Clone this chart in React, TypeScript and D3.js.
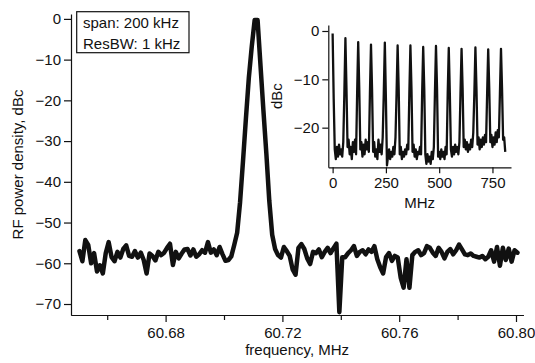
import { useRef, useEffect } from "react";
import * as d3 from "d3";

// main spectrum: 1 kHz steps starting at 60.6505 MHz
const mainStart = 60.6505;
const mainStep = 0.001;
const mainDb = [
  -57, -59.5, -54.3, -55.5, -60, -57.5, -62, -60.5, -62.5, -57.5,
  -54.8, -58.5, -59.5, -57.2, -58.6, -56.5, -55.6, -58.2, -58.4, -57,
  -58.6, -57.4, -59.2, -62.5, -57.6, -58.2, -59.3, -57.2, -58, -57.4,
  -56.2, -55.2, -60.4, -57.2, -58.8, -57.6, -56.6, -56.5, -58.1, -56.6,
  -58.4, -57.8, -56.8, -57.4, -54.8, -57.4, -56.6, -58, -56, -57.8,
  -59.4, -59.2, -58.3, -55.5, -52.5, -45, -35, -24.5, -14.5, -6.8,
  -0.3, -0.3, -11.5, -22.5, -33, -44.6, -53, -56.5, -58, -58.6,
  -56, -57, -58.2, -61.5, -62.8, -56.2, -55.3, -56.5, -58.8, -60.2,
  -57.2, -57.5, -56.6, -58.5, -57.2, -56.2, -57.5, -56.3, -55.2, -72,
  -58.5, -58.5, -57.5, -56.8, -55.8, -58.2, -57.2, -56.8, -57.8, -56.6,
  -57.2, -55.8, -59, -61, -62.5, -58.5, -57.5, -59.4, -58.2, -58.6,
  -63.5, -66, -59, -66, -58, -57.2, -56.8, -58, -57.5, -55.8,
  -56.2, -57.4, -58.2, -56.2, -57.2, -58.8, -57.2, -56.5, -57.8, -56.8,
  -55.4, -56.6, -57.8, -58, -57.6, -58.2, -58.4, -58.6, -58.2, -59,
  -58.4, -56.8, -59.6, -56, -60.6, -56.2, -59.2, -56.4, -59.6, -56.8,
  -57.4,
];
const mainYTicks = [0, -10, -20, -30, -40, -50, -60, -70];
const mainXMajor = [60.68, 60.72, 60.76, 60.8];
const mainXMinor = [60.66, 60.7, 60.74, 60.78];

// inset: wide span, 5 MHz steps from 0 MHz
const insetStart = 0;
const insetStep = 5;
const insetDb = [
  -0.5, -14, -24.5, -26.5, -24, -26, -23.5, -25.5, -24.5, -26,
  -23, -13, -1.5, -12, -24, -22.5, -25.5, -24, -26.5, -23,
  -25, -22.5, -25.5, -13, -2.3, -12, -24.5, -23, -26, -23.5,
  -25.5, -22.5, -24.5, -23, -25, -13, -2.8, -12, -25, -23,
  -26, -24.5, -26.5, -22.5, -25, -23.5, -25.5, -22, -13, -2.4,
  -14, -27.8, -26, -24.5, -26.5, -25, -26, -24, -25.5, -22,
  -13, -3.0, -12, -25.5, -24, -26.5, -25, -26, -24.5, -25.5,
  -23.5, -24.5, -13, -3.0, -12, -25, -23.5, -26, -24.5, -26.5,
  -25, -25.5, -24, -25.5, -13, -3.3, -12, -25.5, -27.5, -25.5,
  -27, -26, -27.5, -25, -26.5, -24, -13, -3.1, -12, -26,
  -25, -26.5, -24.5, -26, -25, -26.5, -24, -25.5, -13, -3.5,
  -13, -24.5, -26, -24, -25.5, -23.5, -25, -24, -25.5, -23,
  -13, -3.7, -12, -24, -22.5, -24.5, -23, -25, -23.5, -24.5,
  -22.5, -24, -21, -13, -3.4, -12, -23.5, -22, -24.5, -22.5,
  -24, -22, -23.5, -21.5, -23, -13, -3.8, -12, -23, -21.5,
  -24, -22, -23.5, -21, -23, -20.5, -22, -13, -3.7, -12,
  -22.5, -22, -25,
];
const insetYTicks = [0, -10, -20];
const insetXTicks = [0, 250, 500, 750];

const legendLines = ["span: 200 kHz", "ResBW: 1 kHz"];

const FONT = "'Liberation Sans', Arial, Helvetica, sans-serif";
const INK = "#111";

export default function App() {
  const svgRef = useRef<SVGSVGElement>(null);

  useEffect(() => {
    if (!svgRef.current) return;
    const svg = d3.select(svgRef.current);
    svg.selectAll("*").remove();
    svg.attr("font-family", FONT);

    const styleAxis = (gEl: d3.Selection<SVGGElement, unknown, null, undefined>) => {
      gEl.select(".domain").attr("stroke", INK).attr("stroke-width", 1.2);
      gEl.selectAll(".tick line").attr("stroke", INK).attr("stroke-width", 1.2);
      gEl.selectAll("text").attr("fill", INK).attr("font-size", 15).attr("font-family", FONT);
    };

    // ---- main panel
    const x = d3.scaleLinear().domain([60.6476, 60.8025]).range([71, 523.3]);
    const y = d3.scaleLinear().domain([-72.7, 1.2]).range([315, 14]);

    const mainPts = mainDb.map((v, i) => ({ f: mainStart + i * mainStep, v }));
    const line = d3.line<{ f: number; v: number }>().x(d => x(d.f)).y(d => y(d.v));

    svg.append("path").datum(mainPts)
      .attr("fill", "none").attr("stroke", INK).attr("stroke-width", 4.5)
      .attr("stroke-linejoin", "round").attr("stroke-linecap", "round")
      .attr("d", line);

    svg.append("g").attr("transform", `translate(${x.range()[0]},0)`)
      .call(d3.axisLeft(y).tickValues(mainYTicks).tickSize(7).tickSizeOuter(0).tickPadding(3))
      .call(styleAxis);

    svg.append("g").attr("transform", `translate(0,${y.range()[0]})`)
      .call(d3.axisBottom(x).tickValues(mainXMinor).tickSize(5).tickSizeOuter(0).tickFormat(() => ""))
      .call(styleAxis);
    svg.append("g").attr("transform", `translate(0,${y.range()[0]})`)
      .call(d3.axisBottom(x).tickValues(mainXMajor).tickSize(7).tickSizeOuter(0).tickPadding(5).tickFormat(d3.format(".2f")))
      .call(styleAxis);

    svg.append("text").attr("x", (x.range()[0] + x.range()[1]) / 2).attr("y", 355)
      .attr("text-anchor", "middle").attr("font-size", 15).attr("fill", INK)
      .text("frequency, MHz");
    svg.append("text").attr("transform", `translate(23,${(y.range()[0] + y.range()[1]) / 2}) rotate(-90)`)
      .attr("text-anchor", "middle").attr("font-size", 15).attr("fill", INK)
      .text("RF power density, dBc");

    // legend box
    const lg = svg.append("g");
    lg.append("rect").attr("x", 76.7).attr("y", 11.7).attr("width", 112.3).attr("height", 41)
      .attr("fill", "white").attr("stroke", INK).attr("stroke-width", 1.2);
    lg.selectAll("text").data(legendLines).enter().append("text")
      .attr("x", 83).attr("y", (_d, i) => 27.5 + i * 21)
      .attr("font-size", 15).attr("fill", INK)
      .text(d => d);

    // ---- inset
    const ix = d3.scaleLinear().domain([-20.3, 837]).range([328.3, 511]);
    const iy = d3.scaleLinear().domain([-28.2, 1.24]).range([167.3, 25]);
    const insetPts = insetDb.map((v, i) => ({ f: insetStart + i * insetStep, v }));
    const iline = d3.line<{ f: number; v: number }>().x(d => ix(d.f)).y(d => iy(d.v));

    svg.append("path").datum(insetPts)
      .attr("fill", "none").attr("stroke", INK).attr("stroke-width", 2.3)
      .attr("stroke-linejoin", "round")
      .attr("d", iline);

    svg.append("g").attr("transform", `translate(${ix.range()[0]},0)`)
      .call(d3.axisLeft(iy).tickValues(insetYTicks).tickSize(6).tickSizeOuter(0).tickPadding(3))
      .call(styleAxis);
    svg.append("g").attr("transform", `translate(0,${iy.range()[0]})`)
      .call(d3.axisBottom(ix).tickValues(insetXTicks).tickSize(6).tickSizeOuter(0).tickPadding(4))
      .call(styleAxis);

    svg.append("text").attr("x", (ix.range()[0] + ix.range()[1]) / 2).attr("y", 207.5)
      .attr("text-anchor", "middle").attr("font-size", 15).attr("fill", INK)
      .text("MHz");
    svg.append("text").attr("transform", `translate(282,${(iy.range()[0] + iy.range()[1]) / 2}) rotate(-90)`)
      .attr("text-anchor", "middle").attr("font-size", 15).attr("fill", INK)
      .text("dBc");
  }, []);

  return (
    <svg ref={svgRef} width={535} height={363}
      style={{ position: "fixed", left: 0, top: 0, background: "white" }} />
  );
}
